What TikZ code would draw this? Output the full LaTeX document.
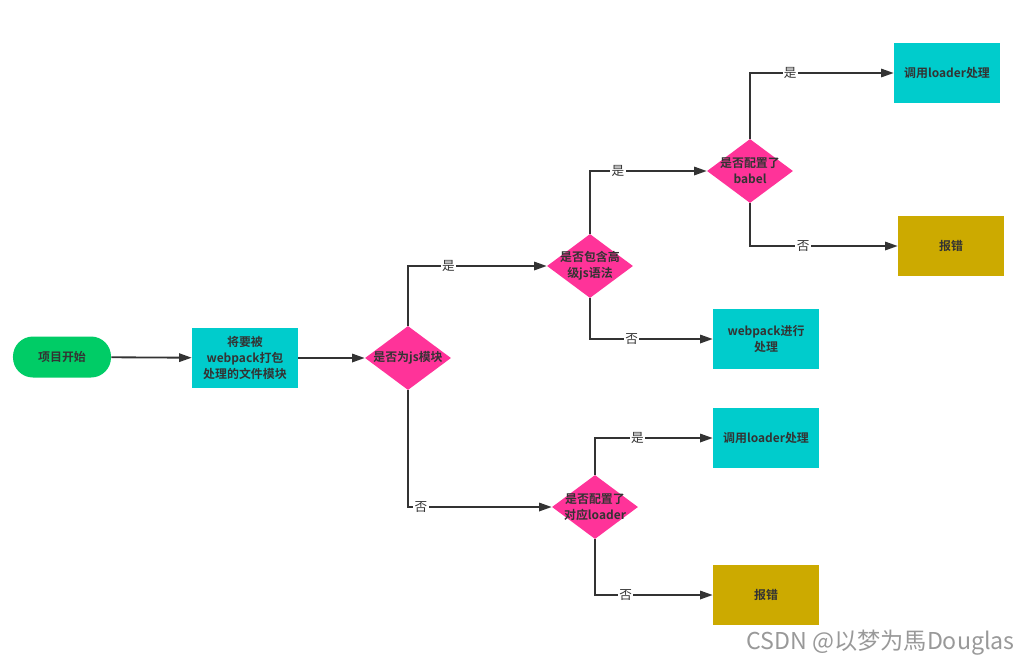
\documentclass[tikz,border=0pt]{standalone}
\usepackage{fontspec}
\setmainfont{Noto Sans CJK SC}[BoldFont={Noto Sans CJK SC Bold}]
\usepackage{xcolor}
\usepackage{tikz}
\usetikzlibrary{shapes,arrows,positioning,calc,arrows.meta}

\definecolor{startgreen}{HTML}{00CC66}
\definecolor{boxcyan}{HTML}{00CCCC}
\definecolor{decpink}{HTML}{FF3399}
\definecolor{errolive}{HTML}{CCAA00}
\definecolor{txtgray}{HTML}{333333}
\definecolor{markgray}{HTML}{999999}

\begin{document}
\begin{tikzpicture}[x=0.025cm, y=-0.025cm,
    every node/.style={text=txtgray},
    bold/.style={font=\fontsize{8.5}{11.5}\selectfont\bfseries, align=center},
    startbox/.style={bold, rectangle, rounded corners=0.5cm, fill=startgreen, minimum width=2.45cm, minimum height=1.025cm, inner sep=0pt},
    procbox/.style={bold, rectangle, fill=#1, minimum width=2.65cm, minimum height=1.5cm, inner sep=0pt},
    decision/.style={diamond, fill=decpink, minimum width=2.15cm, minimum height=1.6cm, inner sep=0pt},
    dtext/.style={bold, inner sep=0pt},
    yn/.style={font=\fontsize{9}{10}\selectfont, fill=white, inner sep=1pt},
    flow/.style={draw=txtgray, line width=1.3pt, -{Triangle[length=9pt,width=6pt]}}]
    \useasboundingbox (0,0) rectangle (1030,666);

    % Start and first steps
    \node[startbox] (start) at (62,357) {项目开始};
    \node[procbox=boxcyan] (collect) at (245,358) {将要被\\webpack打包\\处理的文件模块};

    % Decisions
    \node[decision, label={[dtext]center:{是否为js模块}}] (isjs) at (408,358) {};
    \node[decision, label={[dtext]center:{是否包含高\\级js语法}}] (advjs) at (590,266) {};
    \node[decision, label={[dtext]center:{是否配置了\\babel}}] (babel) at (750,171) {};
    \node[decision, label={[dtext]center:{是否配置了\\对应loader}}] (hasloader) at (595,507) {};

    % Result boxes
    \foreach \name/\x/\y/\col/\txt in {
        babelyes/947/73/boxcyan/调用loader处理,
        babelno/951/246/errolive/报错,
        plainjs/766/339/boxcyan/{webpack进行\\处理},
        loaderyes/766/438/boxcyan/调用loader处理,
        loaderno/766/595/errolive/报错} {
        \node[procbox=\col] (\name) at (\x,\y) {\txt};
    }

    % Connectors
    \draw[flow] (start) -- (collect);
    \draw[flow] (collect) -- (isjs);
    \draw[flow] (isjs.north) |- node[yn, pos=.646] {是} (advjs.west);
    \draw[flow] (isjs.south) |- node[yn, pos=.545] {否} (hasloader.west);
    \draw[flow] (advjs.north) |- node[yn, pos=.62] {是} (babel.west);
    \draw[flow] (advjs.south) |- node[yn, pos=.67] {否} (plainjs.west);
    \draw[flow] (babel.north) |- node[yn, pos=.64] {是} (babelyes.west);
    \draw[flow] (babel.south) |- node[yn, pos=.68] {否} (babelno.west);
    \draw[flow] (hasloader.north) |- node[yn, pos=.68] {是} (loaderyes.west);
    \draw[flow] (hasloader.south) |- node[yn, pos=.63] {否} (loaderno.west);

    % Watermark
    \node[anchor=east, text=markgray, font=\fontsize{16.5}{18}\selectfont, inner sep=0pt] (mark) at (1015,643) {CSDN @以梦为馬Douglas};
\end{tikzpicture}
\end{document}
